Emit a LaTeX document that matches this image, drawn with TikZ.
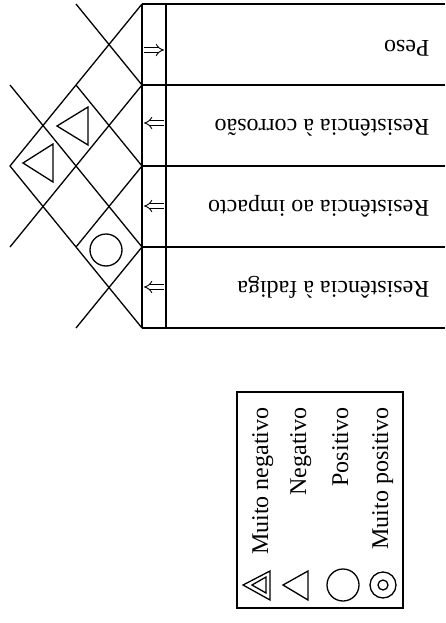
\documentclass[tikz,border=0pt]{standalone}
\usepackage{fontspec}
\setmainfont{Liberation Serif}
\usetikzlibrary{arrows.meta}

\begin{document}
\begin{tikzpicture}[x=1pt, y=-1pt, line width=1.3pt,
    reqtext/.style={font=\fontsize{24}{28}\selectfont, inner sep=0pt},
    trend/.style={double, double distance=3.4pt, line width=0.9pt, -{Implies}}]
    \useasboundingbox (0,0) rectangle (445,623);
    % rows of the table
    \coordinate (T0) at (142,4);
    \coordinate (T1) at (142,85);
    \coordinate (T2) at (142,166);
    \coordinate (T3) at (142,247);
    \coordinate (T4) at (142,328);
    \coordinate (apex) at (10,166);
    \draw (T0) -- (T4);
    \draw (166,4) -- (166,328);
    \foreach \y in {4,85,166,247,328}
      \draw (142,\y) -- (445,\y);
    \node [reqtext, rotate=180, anchor=base west] (peso) at (430,41) {Peso};
    \node [reqtext, rotate=180, anchor=base west] (corr) at (430,119) {Resistência à corrosão};
    \node [reqtext, rotate=180, anchor=base west] (imp) at (430,200) {Resistência ao impacto};
    \node [reqtext, rotate=180, anchor=base west] (fad) at (430,281) {Resistência à fadiga};
    % direction of improvement
    \draw [trend] (144,50) -- (164,50);
    \draw [trend] (164,123) -- (144,123);
    \draw [trend] (164,206) -- (144,206);
    \draw [trend] (164,287) -- (144,287);
    % the roof
    \draw (T0) -- (apex) -- (T4);
    \draw (T1) -- (76,4);
    \draw (T1) -- (10,247);
    \draw (T2) -- (76,85);
    \draw (T2) -- (76,247);
    \draw (T3) -- (10,85);
    \draw (T3) -- (76,328);
    \draw (57,126) -- (88,107) -- (88,145) -- cycle;
    \draw (23,163) -- (53,144) -- (53,182) -- cycle;
    \draw (106,250) circle (16);
    % the legend
    \draw (237,392) rectangle (403,608);
    \draw (243,585) -- (270,571) -- (270,600) -- cycle;
    \draw (252,585) -- (266,577) -- (266,593) -- cycle;
    \draw (283,585) -- (308,571) -- (308,600) -- cycle;
    \draw (343,585) circle (16);
    \draw (383,585) circle (13);
    \draw (383,585) circle (5);
    \node [reqtext, rotate=90, anchor=base east] (mneg) at (268,407) {Muito negativo};
    \node [reqtext, rotate=90, anchor=base east] (neg) at (306,407) {Negativo};
    \node [reqtext, rotate=90, anchor=base east] (pos) at (348,407) {Positivo};
    \node [reqtext, rotate=90, anchor=base east] (mpos) at (388,407) {Muito positivo};
\end{tikzpicture}
\end{document}
